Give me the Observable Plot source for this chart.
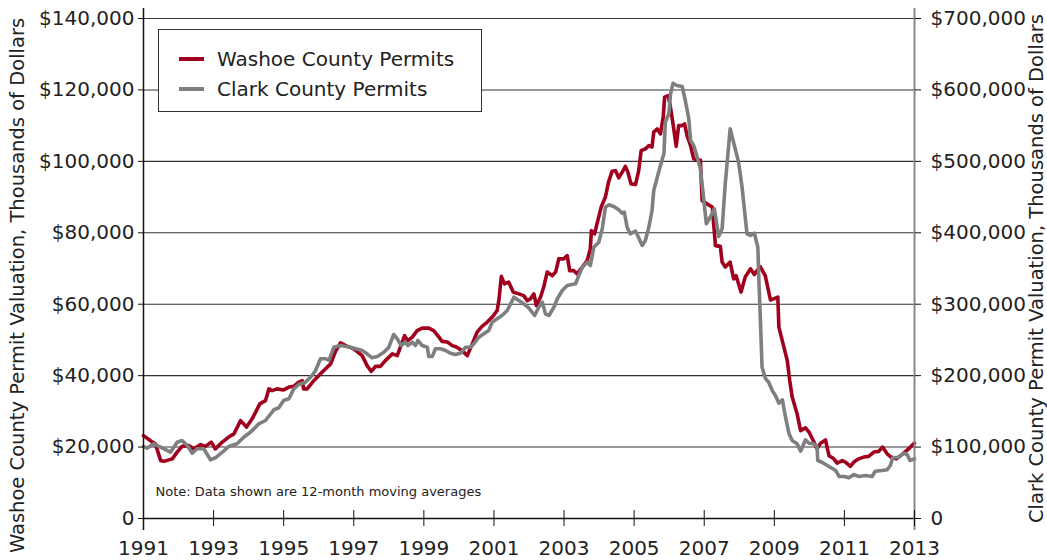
<!DOCTYPE html>
<html>
<head>
<meta charset="utf-8">
<script src="https://cdn.jsdelivr.net/npm/d3@7"></script>
<script src="https://cdn.jsdelivr.net/npm/@observablehq/plot@0.6"></script>
<style>
  html, body { margin: 0; padding: 0; background: #fff; }
  #wrap { position: relative; width: 1047px; height: 560px; font-family: "DejaVu Sans", sans-serif; color: #222; }
  #legend { position: absolute; left: 158px; top: 29px; width: 322px; height: 81px; border: 1.5px solid #333; background: #fff; }
  .row { position: absolute; left: 0; height: 24px; display: flex; align-items: center; font-size: 20px; white-space: nowrap; }
  .sw { width: 25px; height: 4px; margin-left: 20px; margin-right: 13px; }
</style>
</head>
<body>
<div id="wrap">
  <div id="chart"></div>
  <div id="legend">
    <div class="row" style="top:17px"><span class="sw" style="background:#a0001e"></span><span>Washoe County Permits</span></div>
    <div class="row" style="top:47px"><span class="sw" style="background:#7f7f7f"></span><span>Clark County Permits</span></div>
  </div>
</div>
<script>
// Washoe County permit valuation, thousands of dollars (12-month moving average)
const washoeYear = [1991.00,1991.25,1991.34,1991.49,1991.58,1991.82,1991.96,1992.10,1992.29,1992.44,1992.63,1992.77,1992.93,1993.05,1993.25,1993.43,1993.58,1993.77,1993.94,1994.10,1994.32,1994.48,1994.58,1994.67,1994.81,1995.00,1995.15,1995.29,1995.43,1995.53,1995.57,1995.67,1995.86,1996.10,1996.34,1996.48,1996.62,1996.77,1997.00,1997.24,1997.38,1997.50,1997.62,1997.76,1997.90,1998.10,1998.24,1998.33,1998.45,1998.54,1998.67,1998.81,1998.95,1999.14,1999.28,1999.43,1999.52,1999.67,1999.81,1999.93,2000.09,2000.24,2000.38,2000.52,2000.66,2000.81,2000.95,2001.09,2001.14,2001.21,2001.30,2001.42,2001.55,2001.71,2001.85,2001.95,2002.04,2002.14,2002.21,2002.33,2002.42,2002.52,2002.66,2002.76,2002.85,2002.99,2003.09,2003.16,2003.28,2003.37,2003.52,2003.66,2003.75,2003.78,2003.87,2003.94,2004.06,2004.18,2004.27,2004.37,2004.47,2004.56,2004.66,2004.75,2004.82,2004.91,2005.04,2005.13,2005.20,2005.32,2005.42,2005.51,2005.56,2005.66,2005.75,2005.83,2005.87,2005.97,2006.02,2006.11,2006.20,2006.27,2006.37,2006.44,2006.51,2006.61,2006.70,2006.80,2006.89,2006.94,2007.08,2007.23,2007.32,2007.46,2007.51,2007.60,2007.74,2007.84,2007.91,2008.05,2008.17,2008.32,2008.43,2008.51,2008.60,2008.74,2008.89,2008.98,2009.10,2009.13,2009.25,2009.37,2009.44,2009.51,2009.65,2009.75,2009.89,2009.99,2010.13,2010.22,2010.32,2010.46,2010.56,2010.70,2010.79,2010.94,2011.03,2011.17,2011.27,2011.41,2011.55,2011.69,2011.84,2011.98,2012.09,2012.22,2012.33,2012.48,2012.64,2012.83,2013.00];
const washoeValue = [23200,21400,20900,16200,16000,16700,18600,20200,20400,19500,20700,20200,21400,19500,21400,22800,23700,27400,25600,27900,32100,33000,36300,35800,36300,36000,36800,37000,38200,38600,36300,36300,38600,41000,43300,46800,49200,48400,47500,45600,42800,41200,42600,42600,44200,46100,45600,48000,51200,49800,50800,52600,53300,53300,52600,50800,49600,49400,48400,48000,47000,45600,48900,52200,53800,55000,56400,58200,61000,67800,65700,66200,63400,62900,62400,61000,61500,62900,59600,62000,64800,69000,68000,69000,72700,72700,73600,69400,69400,68500,70400,72200,75500,80600,79700,82500,87200,90000,94200,97200,97400,95400,97000,98600,97000,93700,93500,97400,103000,103500,104400,104000,108200,109100,107700,112400,118000,118400,116100,110500,104200,110000,110000,110500,107200,104400,100700,100400,100400,89000,88100,87200,76400,76200,71800,70400,71800,67100,68000,63400,67600,69900,68300,69400,70500,68000,61200,61500,62000,53600,48900,44200,38600,34000,29300,24600,25400,24200,21400,19500,21100,22000,17600,16700,15500,16200,15800,14600,15800,16700,17200,17400,18600,18800,20000,18100,17200,16700,17900,19500,21100];

// Clark County permit valuation, thousands of dollars (12-month moving average)
const clarkYear = [1991.00,1991.10,1991.29,1991.49,1991.77,1991.96,1992.10,1992.25,1992.39,1992.53,1992.72,1992.91,1993.05,1993.25,1993.43,1993.67,1993.86,1994.05,1994.29,1994.48,1994.72,1994.86,1995.00,1995.15,1995.29,1995.43,1995.62,1995.81,1995.91,1996.05,1996.20,1996.29,1996.43,1996.62,1996.91,1997.24,1997.38,1997.52,1997.67,1997.86,1998.00,1998.14,1998.24,1998.35,1998.47,1998.54,1998.67,1998.76,1998.83,1998.95,1999.10,1999.14,1999.24,1999.33,1999.48,1999.62,1999.76,1999.90,2000.04,2000.19,2000.33,2000.44,2000.57,2000.71,2000.85,2000.95,2001.09,2001.23,2001.38,2001.57,2001.71,2001.85,2001.99,2002.16,2002.28,2002.38,2002.47,2002.57,2002.71,2002.81,2002.95,2003.09,2003.33,2003.42,2003.52,2003.66,2003.75,2003.85,2003.99,2004.09,2004.18,2004.28,2004.42,2004.56,2004.66,2004.72,2004.80,2004.89,2005.04,2005.10,2005.23,2005.32,2005.42,2005.51,2005.56,2005.66,2005.75,2005.85,2005.89,2005.99,2006.04,2006.11,2006.22,2006.37,2006.46,2006.56,2006.61,2006.70,2006.80,2006.89,2006.98,2007.06,2007.17,2007.29,2007.41,2007.51,2007.60,2007.74,2007.98,2008.08,2008.22,2008.32,2008.43,2008.53,2008.56,2008.60,2008.65,2008.75,2008.84,2008.94,2009.03,2009.13,2009.23,2009.32,2009.42,2009.51,2009.65,2009.75,2009.89,2009.99,2010.13,2010.22,2010.24,2010.36,2010.56,2010.75,2010.85,2010.99,2011.13,2011.27,2011.41,2011.60,2011.79,2011.88,2012.07,2012.22,2012.31,2012.38,2012.54,2012.70,2012.79,2012.87,2013.00];
const clarkValue = [100800,98400,104600,99800,92800,106800,109200,102200,91400,97600,97600,82200,85000,92800,100800,104600,113800,120800,132600,137200,152200,155000,165200,167600,181600,187600,190800,200200,207200,223600,223600,221200,239800,242200,239800,235200,230600,225000,226800,232800,239800,257600,251600,242200,246800,242200,246800,242200,249200,242200,239800,226800,226800,237600,237600,235200,231400,229600,231400,239800,239800,245400,253800,258600,263200,274800,279600,284200,291200,309800,305200,300600,295000,284200,295800,302800,286600,284200,295800,307600,319200,326200,328600,340200,351800,358800,354200,379800,386800,405600,435800,439200,436800,432200,427400,428800,407800,398600,402200,396200,382200,389200,407800,431200,459200,477800,494200,510600,554800,566600,594600,609400,606200,604800,585200,559600,529200,522200,505800,490000,449800,412600,421800,433600,394800,405600,468600,545600,498800,463800,398600,396200,399400,379800,333200,281800,211800,195600,190800,179200,172200,161400,166200,141800,118600,109200,104600,94200,110200,105400,104600,100800,81200,78800,72800,67200,58800,58800,57000,61600,58800,60200,58800,66200,67200,68200,74200,85000,85800,91400,89600,81200,83600];

const leftTicks = [0,20000,40000,60000,80000,100000,120000,140000];
const rightFactor = 5; // Clark axis = 5 x Washoe axis
const yearTicks = [1991,1993,1995,1997,1999,2001,2003,2005,2007,2009,2011,2013];
const leftTitle = "Washoe County Permit Valuation, Thousands of Dollars";
const rightTitle = "Clark County Permit Valuation, Thousands of Dollars";
const noteText = "Note: Data shown are 12-month moving averages";

const washoe = washoeYear.map((y, i) => ({year: y, value: washoeValue[i]}));
const clark = clarkYear.map((y, i) => ({year: y, value: clarkValue[i] / rightFactor}));
const fmt = d3.format(",");
const money = v => v === 0 ? "0" : "$" + fmt(v);

const chart = Plot.plot({
  width: 1047,
  height: 560,
  marginLeft: 143,
  marginRight: 133,
  marginTop: 18,
  marginBottom: 42,
  style: {fontFamily: "DejaVu Sans, sans-serif", fontSize: "20px", color: "#222", background: "#fff", overflow: "visible"},
  x: {domain: [1991, 2013]},
  y: {domain: [0, 140000]},
  marks: [
    Plot.ruleY(leftTicks.filter(d => d > 0), {stroke: "#333", strokeWidth: 1.1}),
    Plot.line(washoe, {x: "year", y: "value", stroke: "#a0001e", strokeWidth: 3.6}),
    Plot.line(clark, {x: "year", y: "value", stroke: "#7f7f7f", strokeWidth: 3.6}),
    Plot.ruleY([0], {stroke: "#111", strokeWidth: 1.5}),
    Plot.ruleX([1991], {stroke: "#111", strokeWidth: 1.5, insetTop: -10, insetBottom: -12}),
    Plot.ruleX([2013], {stroke: "#888", strokeWidth: 2, insetTop: -10, insetBottom: -12}),
    Plot.axisY(leftTicks, {anchor: "left", tickSize: 5, tickPadding: 4, tickFormat: money, label: null, fontSize: 20, stroke: "#111"}),
    Plot.axisY(leftTicks, {anchor: "right", tickSize: 6, tickPadding: 10, tickFormat: d => money(d * rightFactor), label: null, fontSize: 20, stroke: "#111"}),
    Plot.axisX(yearTicks, {anchor: "bottom", tickSize: 16, dy: -8, tickPadding: 14, tickFormat: d => String(d), label: null, fontSize: 20, stroke: "#111"}),
    Plot.text([leftTitle], {frameAnchor: "left", textAnchor: "middle", rotate: -90, dx: -126, dy: 17, fontSize: 19.5, fill: "#222"}),
    Plot.text([rightTitle], {frameAnchor: "right", textAnchor: "middle", rotate: -90, dx: 122, dy: 0, fontSize: 19.5, fill: "#222"}),
    Plot.text([noteText], {frameAnchor: "bottom-left", textAnchor: "start", dx: 12, dy: -23, fontSize: 13, fill: "#222"})
  ]
});
document.getElementById("chart").appendChild(chart);
</script>
</body>
</html>
